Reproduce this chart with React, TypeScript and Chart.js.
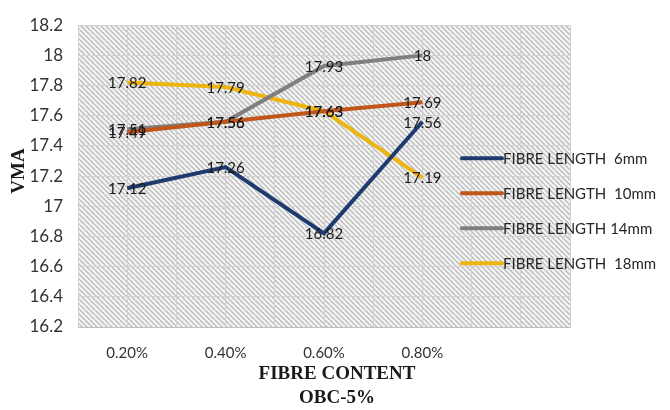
import React, { useEffect, useRef } from "react";
import { Chart, registerables } from "chart.js";

Chart.register(...registerables);

const categories = ["0.20%", "0.40%", "0.60%", "0.80%"];
const seriesLabels = [
  "FIBRE LENGTH  6mm",
  "FIBRE LENGTH  10mm",
  "FIBRE LENGTH 14mm",
  "FIBRE LENGTH  18mm",
];
const fibre6 = [17.12, 17.26, 16.82, 17.56];
const fibre10 = [17.49, 17.56, 17.63, 17.69];
const fibre14 = [17.51, 17.56, 17.93, 18];
const fibre18 = [17.82, 17.79, 17.63, 17.19];
const seriesColors = ["#1f3a6e", "#c0561a", "#7f7f7f", "#eeb40f"];
const yMin = 16.2;
const yMax = 18.2;
const yStep = 0.2;
const yTitle = "VMA";
const xTitleLines = ["FIBRE CONTENT", "OBC-5%"];

const allSeries = [fibre6, fibre10, fibre14, fibre18];

function makePattern(ctx: CanvasRenderingContext2D) {
  const s = 5;
  const c = document.createElement("canvas");
  c.width = s;
  c.height = s;
  const p = c.getContext("2d")!;
  p.fillStyle = "#f5f5f5";
  p.fillRect(0, 0, s, s);
  p.strokeStyle = "#bcbcbc";
  p.lineWidth = 1.4;
  for (const off of [-s, 0, s]) {
    p.beginPath();
    p.moveTo(off, 0);
    p.lineTo(off + s, s);
    p.stroke();
  }
  return ctx.createPattern(c, "repeat");
}

const hatchPlugin = {
  id: "hatch",
  beforeDraw(chart: any) {
    const { ctx, chartArea } = chart;
    const pat = makePattern(ctx);
    ctx.save();
    ctx.fillStyle = pat || "#e8e8e8";
    ctx.fillRect(chartArea.left, chartArea.top, chartArea.right - chartArea.left, chartArea.bottom - chartArea.top);
    ctx.restore();
  },
};

const labelPlugin = {
  id: "pointLabels",
  afterDatasetsDraw(chart: any) {
    const { ctx } = chart;
    ctx.save();
    ctx.font = "15px Lato";
    ctx.fillStyle = "#1a1a1a";
    ctx.textAlign = "center";
    ctx.textBaseline = "middle";
    chart.data.datasets.forEach((ds: any, di: number) => {
      const meta = chart.getDatasetMeta(di);
      meta.data.forEach((pt: any, i: number) => {
        const v = ds.data[i].y;
        ctx.fillText(String(v), pt.x, pt.y + 1);
      });
    });
    ctx.restore();
  },
};

const decorPlugin = {
  id: "decor",
  afterDraw(chart: any) {
    const { ctx, chartArea } = chart;
    ctx.save();
    // legend
    const x0 = chartArea.right - 108;
    const top = chartArea.top + 133;
    ctx.font = "15px Lato";
    ctx.textBaseline = "middle";
    ctx.textAlign = "left";
    chart.data.datasets.forEach((ds: any, i: number) => {
      const y = top + i * 35;
      ctx.strokeStyle = ds.borderColor;
      ctx.lineWidth = 4;
      ctx.lineCap = "round";
      ctx.beginPath();
      ctx.moveTo(x0, y);
      ctx.lineTo(x0 + 40, y);
      ctx.stroke();
      ctx.fillStyle = "#262626";
      ctx.fillText(ds.label, x0 + 41, y + 1);
    });
    // axis titles
    ctx.fillStyle = "#1a1a1a";
    ctx.font = "bold 19px 'Liberation Serif'";
    ctx.textAlign = "center";
    ctx.save();
    ctx.translate(19, 171);
    ctx.rotate(-Math.PI / 2);
    ctx.fillText(yTitle, 0, 0);
    ctx.restore();
    const cx = chartArea.left + (chartArea.right - chartArea.left) / 2 + 13;
    xTitleLines.forEach((t, i) => {
      ctx.fillText(t, cx, chartArea.bottom + 47 + i * 24);
    });
    ctx.restore();
  },
};

export default function App() {
  const ref = useRef<HTMLCanvasElement | null>(null);
  useEffect(() => {
    if (!ref.current) return;
    const chart = new Chart(ref.current, {
      type: "line",
      data: {
        datasets: allSeries.map((s, i) => ({
          label: seriesLabels[i],
          data: s.map((v, j) => ({ x: j + 1, y: v })),
          borderColor: seriesColors[i],
          backgroundColor: seriesColors[i],
          borderWidth: 4,
          pointRadius: 0,
          tension: 0,
          fill: false,
        })),
      },
      options: {
        responsive: false,
        animation: false,
        layout: { padding: { left: 0, right: 100, top: 18, bottom: 0 } },
        plugins: { legend: { display: false }, tooltip: { enabled: false } },
        scales: {
          x: {
            type: "linear",
            min: 0.5,
            max: categories.length + 1.5,
            afterFit(scale: any) {
              scale.height = 83;
            },
            ticks: {
              stepSize: 0.5,
              autoSkip: false,
              maxRotation: 0,
              padding: 17,
              color: "#333333",
              font: { family: "Lato", size: 15 },
              callback(v: any) {
                const n = Number(v);
                if (Number.isInteger(n) && n >= 1 && n <= categories.length) return categories[n - 1];
                return "";
              },
            },
            grid: { color: "#d2d2d2", lineWidth: 1, drawTicks: false },
            border: { color: "#bfbfbf", width: 1 },
          },
          y: {
            min: yMin,
            max: yMax,
            afterFit(scale: any) {
              scale.width = 78;
            },
            ticks: {
              stepSize: yStep,
              padding: 15,
              color: "#333333",
              font: { family: "Lato", size: 17 },
              callback(v: any) {
                return String(Number(Number(v).toFixed(1)));
              },
            },
            grid: { color: "#d2d2d2", lineWidth: 1, drawTicks: false },
            border: { display: false },
          },
        },
      },
      plugins: [hatchPlugin, labelPlugin, decorPlugin],
    });
    return () => chart.destroy();
  }, []);
  return (
    <div style={{ position: "absolute", left: 0, top: 0, width: 670, height: 410, background: "#fff" }}>
      <canvas ref={ref} width={670} height={410} />
    </div>
  );
}
